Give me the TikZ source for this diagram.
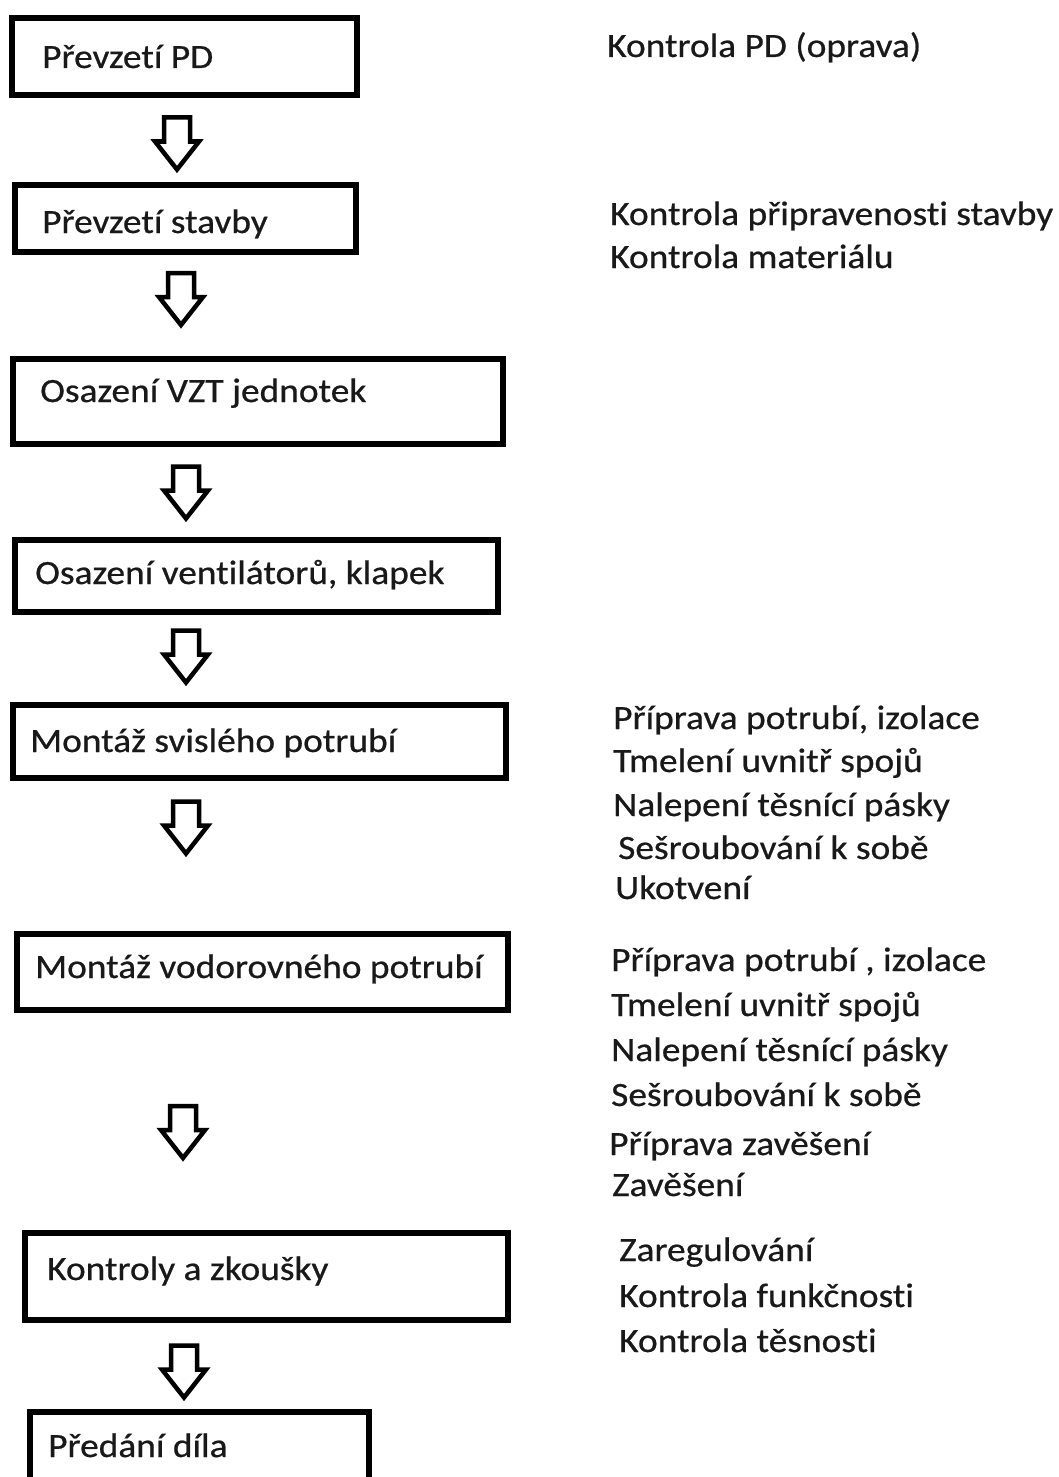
\documentclass[tikz,border=0pt]{standalone}
\usepackage{fontspec}
\setmainfont{Carlito}[FakeStretch=1.1, FakeBold=0.6, Ligatures=NoCommon]
\tikzset{
  flowbox/.style={draw=black, line width=6pt, inner sep=0pt, fill=white},
  boxtxt/.style={anchor=base west, inner sep=0pt, font=\fontsize{34}{40}\selectfont, text=black!90},
  sidetxt/.style={anchor=base west, inner sep=0pt, font=\fontsize{34}{40}\selectfont, text=black!90},
  blockarr/.style={draw=black, fill=white, line width=4.5pt, line join=miter}
}
\newcommand\downblock[1]{%
  \draw[blockarr] ([shift={(-13,-27)}]#1) -- ([shift={(13,-27)}]#1)
    -- ([shift={(13,-3)}]#1) -- ([shift={(22,-3)}]#1) -- ([shift={(0,25)}]#1)
    -- ([shift={(-22,-3)}]#1) -- ([shift={(-13,-3)}]#1) -- cycle;}
\begin{document}
\begin{tikzpicture}[x=1pt, y=-1pt]
\useasboundingbox (0,0) rectangle (1058,1477);
\clip (0,0) rectangle (1058,1477);
\fill[white] (0,0) rectangle (1058,1477);

% boxes
\node[flowbox, minimum width=345pt, minimum height=77pt] (b1) at (184.5,56.5) {};
\node[flowbox, minimum width=341pt, minimum height=67pt] (b2) at (185.5,218.5) {};
\node[flowbox, minimum width=490pt, minimum height=85pt] (b3) at (258,401.5) {};
\node[flowbox, minimum width=483pt, minimum height=72pt] (b4) at (256.5,576) {};
\node[flowbox, minimum width=493pt, minimum height=73pt] (b5) at (259.5,741.5) {};
\node[flowbox, minimum width=491pt, minimum height=76pt] (b6) at (262.5,972) {};
\node[flowbox, minimum width=483pt, minimum height=87pt] (b7) at (266.5,1276.5) {};
\node[flowbox, minimum width=339pt, minimum height=86pt] (b8) at (199.5,1455) {};

% box texts
\node[boxtxt] (t1) at (42,68) {Převzetí PD};
\node[boxtxt] (t2) at (42,233) {Převzetí stavby};
\node[boxtxt] (t3) at (40,402) {Osazení VZT jednotek};
\node[boxtxt] (t4) at (35,584) {Osazení ventilátorů, klapek};
\node[boxtxt] (t5) at (30,752) {Montáž svislého potrubí};
\node[boxtxt] (t6) at (35,978) {Montáž vodorovného potrubí};
\node[boxtxt] (t7) at (47,1280) {Kontroly a zkoušky};
\node[boxtxt] (t8) at (48,1457) {Předání díla};

% block arrows
\coordinate (a1) at (177,144.5);
\coordinate (a2) at (181,300);
\coordinate (a3) at (186,493.5);
\coordinate (a4) at (186,657.5);
\coordinate (a5) at (186,828.5);
\coordinate (a6) at (183,1133);
\coordinate (a7) at (184,1372.5);
\downblock{a1}
\downblock{a2}
\downblock{a3}
\downblock{a4}
\downblock{a5}
\downblock{a6}
\downblock{a7}

% side notes
\node[sidetxt] (s11) at (607,57) {Kontrola PD (oprava)};
\node[sidetxt] (s21) at (610,225) {Kontrola připravenosti stavby};
\node[sidetxt] (s22) at (610,268) {Kontrola materiálu};

\node[sidetxt] (s51) at (613,729) {Příprava potrubí, izolace};
\node[sidetxt] (s52) at (613,772) {Tmelení uvnitř spojů};
\node[sidetxt] (s53) at (613,816) {Nalepení těsnící pásky};
\node[sidetxt] (s54) at (618,859) {Sešroubování k sobě};
\node[sidetxt] (s55) at (615,899) {Ukotvení};

\node[sidetxt] (s61) at (611,971) {Příprava potrubí , izolace};
\node[sidetxt] (s62) at (611,1016) {Tmelení uvnitř spojů};
\node[sidetxt] (s63) at (611,1061) {Nalepení těsnící pásky};
\node[sidetxt] (s64) at (611,1106) {Sešroubování k sobě};
\node[sidetxt] (s65) at (609,1155) {Příprava zavěšení};
\node[sidetxt] (s66) at (612,1196) {Zavěšení};

\node[sidetxt] (s71) at (619,1261) {Zaregulování};
\node[sidetxt] (s72) at (619,1307) {Kontrola funkčnosti};
\node[sidetxt] (s73) at (619,1352) {Kontrola těsnosti};
\end{tikzpicture}
\end{document}
